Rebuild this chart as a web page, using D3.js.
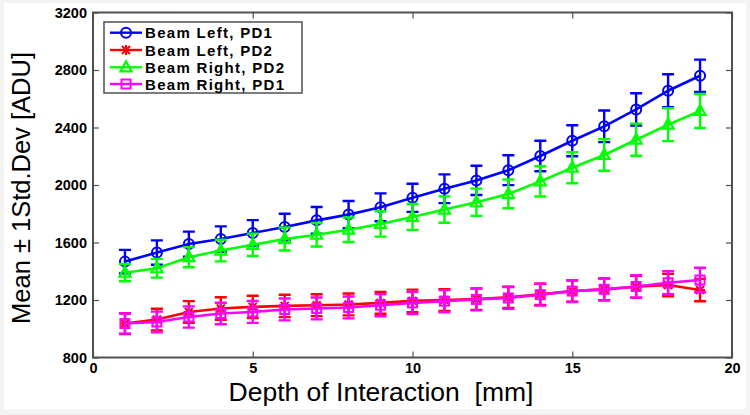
<!DOCTYPE html>
<html>
<head>
<meta charset="utf-8">
<script src="https://cdn.jsdelivr.net/npm/d3@7"></script>
<style>
  html, body { margin: 0; padding: 0; background: #ffffff; }
  svg { display: block; }
  text { font-family: "Liberation Sans", Arial, Helvetica, sans-serif; }
</style>
</head>
<body>
<svg id="chart" width="750" height="415"></svg>
<script>
// ---------------- data ----------------
const depth = [1,2,3,4,5,6,7,8,9,10,11,12,13,14,15,16,17,18,19];

const beamLeftPD1  = [1467,1530,1589,1624,1666,1708,1754,1794,1845,1911,1974,2032,2103,2202,2308,2408,2526,2656,2760];
const beamLeftPD1Err = [82,85,87,88,90,92,93,95,97,98,100,102,104,106,108,110,112,114,112];

const beamLeftPD2  = [1036,1064,1117,1141,1152,1159,1164,1169,1180,1194,1199,1206,1218,1239,1262,1274,1292,1304,1269];
const beamLeftPD2Err = [72,75,75,78,78,78,76,76,76,78,76,75,74,74,74,75,76,78,78];

const beamRightPD2 = [1390,1421,1498,1544,1584,1624,1654,1689,1729,1778,1829,1880,1938,2025,2120,2209,2315,2420,2515];
const beamRightPD2Err = [60,65,70,75,78,80,82,85,88,90,92,95,100,105,108,110,112,115,118];

const beamRightPD1 = [1036,1047,1082,1106,1117,1134,1141,1148,1164,1180,1192,1204,1214,1237,1262,1274,1294,1320,1339];
const beamRightPD1Err = [70,72,74,75,76,76,76,76,77,77,77,76,76,76,76,77,78,80,85];

const xTicks = [0,5,10,15,20];
const yTicks = [800,1200,1600,2000,2400,2800,3200];

const seriesNames = ["Beam Left, PD1","Beam Left, PD2","Beam Right, PD2","Beam Right, PD1"];
const seriesColors = ["#0000ff","#ff0000","#00ff00","#ff00ff"];
const seriesMarkers = ["circle","plus","triangle","square"];
const seriesValues = [beamLeftPD1, beamLeftPD2, beamRightPD2, beamRightPD1];
const seriesErrors = [beamLeftPD1Err, beamLeftPD2Err, beamRightPD2Err, beamRightPD1Err];

const xLabel = "Depth of Interaction  [mm]";
const yLabel = "Mean \u00B1 1Std.Dev [ADU]";

// ---------------- layout ----------------
const W = 750, H = 415;
const plot = {left: 93, right: 732, top: 12.5, bottom: 357.5};
const boldFont = '"DejaVu Sans", Verdana, sans-serif';

const svg = d3.select("#chart");

// faint outer frame
svg.append("rect").attr("x",0).attr("y",0).attr("width",W).attr("height",H).attr("fill","#f3f3f3");
svg.append("rect").attr("x",4).attr("y",3).attr("width",W-8).attr("height",H-9).attr("fill","#ffffff");

const x = d3.scaleLinear().domain([0,20]).range([plot.left, plot.right]);
const y = d3.scaleLinear().domain([800,3200]).range([plot.bottom, plot.top]);

const frameColor = "#505050";
const tickLen = 6;

// axes (ticks pointing inward, MATLAB box style)
const gx = svg.append("g").attr("transform",`translate(0,${plot.bottom})`)
  .call(d3.axisTop(x).tickValues(xTicks).tickSize(tickLen).tickFormat(""));
const gxt = svg.append("g").attr("transform",`translate(0,${plot.top})`)
  .call(d3.axisBottom(x).tickValues(xTicks).tickSize(tickLen).tickFormat(""));
const gy = svg.append("g").attr("transform",`translate(${plot.left},0)`)
  .call(d3.axisRight(y).tickValues(yTicks).tickSize(tickLen).tickFormat(""));
const gyr = svg.append("g").attr("transform",`translate(${plot.right},0)`)
  .call(d3.axisLeft(y).tickValues(yTicks).tickSize(tickLen).tickFormat(""));
[gx,gxt,gy,gyr].forEach(g => {
  g.select(".domain").remove();
  g.selectAll(".tick line").attr("stroke", frameColor).attr("stroke-width",1.2);
});

// tick labels
const gxl = svg.append("g").attr("transform",`translate(0,${plot.bottom})`)
  .call(d3.axisBottom(x).tickValues(xTicks).tickSize(0).tickPadding(5).tickFormat(d3.format("d")));
gxl.select(".domain").remove();
gxl.selectAll("text").attr("font-size",14.5).attr("font-weight","bold").attr("fill","#000")
  .attr("font-family",boldFont);

const gyl = svg.append("g").attr("transform",`translate(${plot.left},0)`)
  .call(d3.axisLeft(y).tickValues(yTicks).tickSize(0).tickPadding(6).tickFormat(d3.format("d")));
gyl.select(".domain").remove();
gyl.selectAll("text").attr("font-size",14.5).attr("font-weight","bold").attr("fill","#000")
  .attr("font-family",boldFont);

// plot frame
svg.append("rect")
  .attr("x",plot.left).attr("y",plot.top)
  .attr("width",plot.right-plot.left).attr("height",plot.bottom-plot.top)
  .attr("fill","none").attr("stroke",frameColor).attr("stroke-width",2);

// axis labels
svg.append("text")
  .attr("x",381).attr("y",401)
  .attr("text-anchor","middle").attr("font-size",26.5).attr("fill","#000")
  .style("white-space","pre")
  .text(xLabel);
svg.append("text")
  .attr("transform",`translate(30,${(plot.top+plot.bottom)/2 + 3}) rotate(-90)`)
  .attr("text-anchor","middle").attr("font-size",25.5).attr("fill","#000")
  .text(yLabel);

// ---------------- markers ----------------
function drawMarker(g, type, cx, cy, color) {
  if (type === "circle") {
    g.append("circle").attr("cx",cx).attr("cy",cy).attr("r",5)
      .attr("fill","none").attr("stroke",color).attr("stroke-width",2);
  } else if (type === "plus") {
    g.append("path").attr("d",`M${cx-5},${cy}H${cx+5}M${cx},${cy-5}V${cy+5}M${cx-4},${cy-4}L${cx+4},${cy+4}M${cx-4},${cy+4}L${cx+4},${cy-4}`)
      .attr("stroke",color).attr("stroke-width",2).attr("fill","none");
  } else if (type === "triangle") {
    g.append("path").attr("d",`M${cx},${cy-6}L${cx+5.5},${cy+4}L${cx-5.5},${cy+4}Z`)
      .attr("fill","none").attr("stroke",color).attr("stroke-width",2.2);
  } else if (type === "square") {
    g.append("rect").attr("x",cx-4.5).attr("y",cy-4.5).attr("width",9).attr("height",9)
      .attr("fill","none").attr("stroke",color).attr("stroke-width",2);
  }
}

// ---------------- series ----------------
const line = d3.line().x((d,i)=>x(depth[i])).y(d=>y(d));
const capHalf = 6;

seriesValues.forEach((vals, s) => {
  const color = seriesColors[s];
  const errs = seriesErrors[s];
  const g = svg.append("g");
  vals.forEach((v,i) => {
    const cx = x(depth[i]);
    const y1 = y(v + errs[i]), y2 = y(v - errs[i]);
    g.append("path")
      .attr("d",`M${cx},${y1}V${y2}M${cx-capHalf},${y1}H${cx+capHalf}M${cx-capHalf},${y2}H${cx+capHalf}`)
      .attr("stroke",color).attr("stroke-width",2.4).attr("fill","none");
  });
  g.append("path").datum(vals).attr("d",line)
    .attr("fill","none").attr("stroke",color).attr("stroke-width",2.6);
  vals.forEach((v,i) => drawMarker(g, seriesMarkers[s], x(depth[i]), y(v), color));
});

// ---------------- legend ----------------
const leg = svg.append("g");
const legBox = {x: 104, y: 22, w: 198, h: 71};
leg.append("rect").attr("x",legBox.x).attr("y",legBox.y).attr("width",legBox.w).attr("height",legBox.h)
  .attr("fill","#ffffff").attr("stroke",frameColor).attr("stroke-width",1.5);
const rowY = [32.7, 50, 67.3, 84];
seriesNames.forEach((name, s) => {
  const ry = rowY[s];
  leg.append("line").attr("x1",110).attr("x2",142).attr("y1",ry).attr("y2",ry)
    .attr("stroke",seriesColors[s]).attr("stroke-width",2.4);
  drawMarker(leg, seriesMarkers[s], 126, ry, seriesColors[s]);
  leg.append("text").attr("x",145).attr("y",ry+5.5)
    .attr("font-size",15).attr("font-weight","bold").attr("fill","#000")
    .attr("letter-spacing",1.3)
    .attr("font-family",boldFont)
    .text(name);
});
</script>
</body>
</html>
